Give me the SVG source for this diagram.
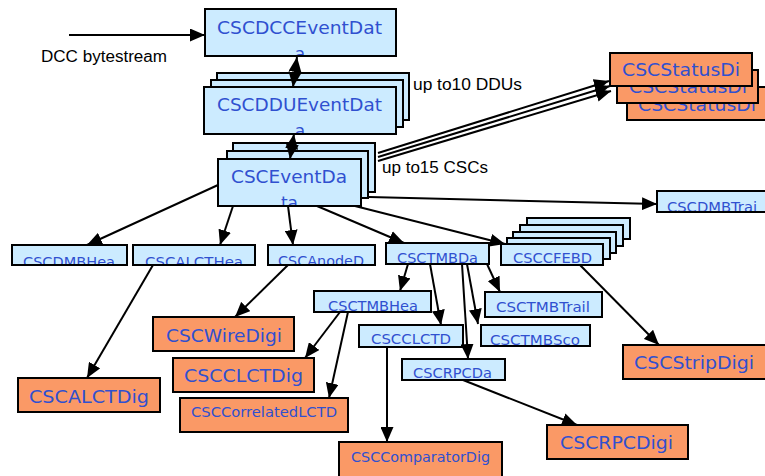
<svg xmlns="http://www.w3.org/2000/svg" width="765" height="476" viewBox="0 0 765 476">
<style>
.box{stroke:#000;stroke-width:2}
.blue{fill:#CCEBFF}
.orange{fill:#FA9966}
.lbl{font-family:"DejaVu Sans",Verdana,sans-serif;fill:#3050D0}
.big{font-size:17px}
.mid{font-size:14px}
.sm{font-size:13.5px}
.plain{font-family:"Liberation Sans",Arial,sans-serif;fill:#000;font-size:16px}
.conn{stroke:#000;stroke-width:2;fill:none}
</style>
<defs>
<marker id="ah" markerUnits="userSpaceOnUse" markerWidth="15" markerHeight="13" refX="15" refY="6.5" orient="auto-start-reverse">
<path d="M0,0 L15,6.5 L0,13 z" fill="#000"/>
</marker>
<clipPath id="cDCC"><rect x="206" y="10" width="189" height="45"/></clipPath>
<clipPath id="cDDU"><rect x="205" y="88" width="190" height="45"/></clipPath>
<clipPath id="cEvD"><rect x="219" y="160" width="141" height="45"/></clipPath>
<clipPath id="cDMBH"><rect x="13" y="246" width="113" height="18"/></clipPath>
<clipPath id="cALCTH"><rect x="134" y="246" width="120" height="18"/></clipPath>
<clipPath id="cAnode"><rect x="269" y="246" width="105" height="18"/></clipPath>
<clipPath id="cTMBDa"><rect x="387" y="244" width="101" height="19"/></clipPath>
<clipPath id="cCFEB"><rect x="502" y="245" width="100" height="19"/></clipPath>
<clipPath id="cDMBT"><rect x="658" y="192" width="108" height="19"/></clipPath>
<clipPath id="cTMBH"><rect x="315" y="292" width="115" height="19"/></clipPath>
<clipPath id="cCLCTD"><rect x="360" y="326" width="102" height="20"/></clipPath>
<clipPath id="cRPCDa"><rect x="403" y="360" width="101" height="19"/></clipPath>
<clipPath id="cTMBS"><rect x="482" y="326" width="107" height="19"/></clipPath>
</defs>

<g id="label-dcc-bytestream"><text class="plain" x="41" y="62" textLength="126" lengthAdjust="spacingAndGlyphs">DCC bytestream</text></g>
<g id="label-ddus"><text class="plain" x="413" y="90" textLength="109" lengthAdjust="spacingAndGlyphs">up to10 DDUs</text></g>
<g id="label-cscs"><text class="plain" x="382" y="173" textLength="106" lengthAdjust="spacingAndGlyphs">up to15 CSCs</text></g>

<g id="CSCDCCEventData">
<rect class="box blue" x="205" y="9" width="191" height="47"/>
<g clip-path="url(#cDCC)">
<text class="lbl big" x="217" y="34" textLength="165" lengthAdjust="spacingAndGlyphs">CSCDCCEventDat</text>
<text class="lbl big" x="300" y="60" text-anchor="middle">a</text>
</g>
</g>

<g id="CSCDDUEventData">
<rect class="box blue" x="217" y="73" width="192" height="47"/>
<rect class="box blue" x="211" y="80" width="192" height="47"/>
<rect class="box blue" x="204" y="87" width="192" height="47"/>
<g clip-path="url(#cDDU)">
<text class="lbl big" x="217" y="111" textLength="165" lengthAdjust="spacingAndGlyphs">CSCDDUEventDat</text>
<text class="lbl big" x="300" y="137" text-anchor="middle">a</text>
</g>
</g>

<g id="CSCEventData">
<rect class="box blue" x="233" y="143" width="142" height="49"/>
<rect class="box blue" x="227" y="151" width="141" height="47"/>
<rect class="box blue" x="218" y="159" width="143" height="47"/>
<g clip-path="url(#cEvD)">
<text class="lbl big" x="231" y="183" textLength="116" lengthAdjust="spacingAndGlyphs">CSCEventDa</text>
<text class="lbl big" x="289.5" y="209" text-anchor="middle">ta</text>
</g>
</g>

<g id="CSCStatusDigi">
<rect class="box orange" x="627" y="87" width="140" height="33"/>
<text class="lbl big" x="638" y="111" textLength="118" lengthAdjust="spacingAndGlyphs">CSCStatusDi</text>
<rect class="box orange" x="617" y="70" width="141" height="33"/>
<text class="lbl big" x="629" y="93" textLength="118" lengthAdjust="spacingAndGlyphs">CSCStatusDi</text>
<rect class="box orange" x="610" y="53" width="142" height="33"/>
<text class="lbl big" x="622" y="76" textLength="118" lengthAdjust="spacingAndGlyphs">CSCStatusDi</text>
</g>

<g id="CSCDMBHeader">
<rect class="box blue" x="12" y="245" width="115" height="20"/>
<text class="lbl sm" clip-path="url(#cDMBH)" x="23" y="267" textLength="92" lengthAdjust="spacingAndGlyphs">CSCDMBHea</text>
</g>
<g id="CSCALCTHeader">
<rect class="box blue" x="133" y="245" width="122" height="20"/>
<text class="lbl sm" clip-path="url(#cALCTH)" x="145" y="267" textLength="98" lengthAdjust="spacingAndGlyphs">CSCALCTHea</text>
</g>
<g id="CSCAnodeData">
<rect class="box blue" x="268" y="245" width="107" height="20"/>
<text class="lbl sm" clip-path="url(#cAnode)" x="278" y="266" textLength="86" lengthAdjust="spacingAndGlyphs">CSCAnodeD</text>
</g>
<g id="CSCTMBData">
<rect class="box blue" x="386" y="243" width="103" height="21"/>
<text class="lbl sm" clip-path="url(#cTMBDa)" x="397" y="263" textLength="81" lengthAdjust="spacingAndGlyphs">CSCTMBDa</text>
</g>
<g id="CSCCFEBData">
<rect class="box blue" x="527" y="218" width="103" height="21"/>
<rect class="box blue" x="520" y="225" width="103" height="21"/>
<rect class="box blue" x="513" y="232" width="103" height="21"/>
<rect class="box blue" x="507" y="238" width="103" height="21"/>
<rect class="box blue" x="501" y="244" width="102" height="21"/>
<text class="lbl sm" clip-path="url(#cCFEB)" x="513" y="263" textLength="79" lengthAdjust="spacingAndGlyphs">CSCCFEBD</text>
</g>
<g id="CSCDMBTrailer">
<rect class="box blue" x="657" y="191" width="110" height="21"/>
<text class="lbl sm" clip-path="url(#cDMBT)" x="667" y="212.3" textLength="90" lengthAdjust="spacingAndGlyphs">CSCDMBTrai</text>
</g>

<g id="CSCTMBHeader">
<rect class="box blue" x="314" y="291" width="117" height="21"/>
<text class="lbl sm" clip-path="url(#cTMBH)" x="328" y="311.3" textLength="90" lengthAdjust="spacingAndGlyphs">CSCTMBHea</text>
</g>
<g id="CSCCLCTData">
<rect class="box blue" x="359" y="325" width="104" height="22"/>
<text class="lbl sm" clip-path="url(#cCLCTD)" x="371" y="344.3" textLength="80" lengthAdjust="spacingAndGlyphs">CSCCLCTD</text>
</g>
<g id="CSCRPCData">
<rect class="box blue" x="402" y="359" width="103" height="21"/>
<text class="lbl sm" clip-path="url(#cRPCDa)" x="413" y="378.3" textLength="79" lengthAdjust="spacingAndGlyphs">CSCRPCDa</text>
</g>
<g id="CSCTMBScope">
<rect class="box blue" x="481" y="325" width="109" height="21"/>
<text class="lbl sm" clip-path="url(#cTMBS)" x="490" y="345.3" textLength="90" lengthAdjust="spacingAndGlyphs">CSCTMBSco</text>
</g>
<g id="CSCTMBTrailer">
<rect class="box blue" x="485" y="292" width="117" height="25"/>
<text class="lbl sm" x="496" y="312" textLength="94" lengthAdjust="spacingAndGlyphs">CSCTMBTrail</text>
</g>

<g id="CSCALCTDigi">
<rect class="box orange" x="18" y="378" width="142" height="34"/>
<text class="lbl big" x="29" y="403" textLength="120" lengthAdjust="spacingAndGlyphs">CSCALCTDig</text>
</g>
<g id="CSCWireDigi">
<rect class="box orange" x="153" y="317" width="141" height="34"/>
<text class="lbl big" x="166" y="342" textLength="116" lengthAdjust="spacingAndGlyphs">CSCWireDigi</text>
</g>
<g id="CSCCLCTDigi">
<rect class="box orange" x="173" y="358" width="141" height="34"/>
<text class="lbl big" x="184" y="382" textLength="119" lengthAdjust="spacingAndGlyphs">CSCCLCTDig</text>
</g>
<g id="CSCCorrelatedLCTDigi">
<rect class="box orange" x="180" y="398" width="168" height="34"/>
<text class="lbl mid" x="191" y="417" textLength="146" lengthAdjust="spacingAndGlyphs">CSCCorrelatedLCTD</text>
</g>
<g id="CSCComparatorDigi">
<rect class="box orange" x="339" y="442" width="163" height="36"/>
<text class="lbl mid" x="351" y="462" textLength="139" lengthAdjust="spacingAndGlyphs">CSCComparatorDig</text>
</g>
<g id="CSCStripDigi">
<rect class="box orange" x="623" y="345" width="143" height="34"/>
<text class="lbl big" x="634" y="369" textLength="120" lengthAdjust="spacingAndGlyphs">CSCStripDigi</text>
</g>
<g id="CSCRPCDigi">
<rect class="box orange" x="547" y="425" width="141" height="34"/>
<text class="lbl big" x="560" y="449" textLength="113" lengthAdjust="spacingAndGlyphs">CSCRPCDigi</text>
</g>

<g id="connectors" class="conn">
<line x1="69" y1="35" x2="205" y2="35" marker-end="url(#ah)"/>
<line x1="297" y1="57" x2="293" y2="87" marker-start="url(#ah)" marker-end="url(#ah)"/>
<line x1="294" y1="134" x2="290" y2="159" marker-start="url(#ah)" marker-end="url(#ah)"/>
<line x1="378" y1="153" x2="609" y2="81" marker-end="url(#ah)"/>
<line x1="378" y1="157" x2="610" y2="86" marker-end="url(#ah)"/>
<line x1="378" y1="161" x2="611" y2="91" marker-end="url(#ah)"/>
<line x1="218" y1="185" x2="87" y2="245" marker-end="url(#ah)"/>
<line x1="233" y1="206" x2="220" y2="245" marker-end="url(#ah)"/>
<line x1="288" y1="206" x2="293" y2="245" marker-end="url(#ah)"/>
<line x1="317" y1="206" x2="404" y2="243" marker-end="url(#ah)"/>
<line x1="355" y1="206" x2="505" y2="244" marker-end="url(#ah)"/>
<line x1="369" y1="197" x2="657" y2="204" marker-end="url(#ah)"/>
<line x1="153" y1="265" x2="87" y2="378" marker-end="url(#ah)"/>
<line x1="288" y1="265" x2="235" y2="317" marker-end="url(#ah)"/>
<line x1="408" y1="264" x2="400" y2="291" marker-end="url(#ah)"/>
<line x1="430" y1="264" x2="441" y2="325" marker-end="url(#ah)"/>
<line x1="462" y1="264" x2="468" y2="359" marker-end="url(#ah)"/>
<line x1="467" y1="264" x2="478" y2="324" marker-end="url(#ah)"/>
<line x1="487" y1="264" x2="500" y2="292" marker-end="url(#ah)"/>
<line x1="580" y1="265" x2="659" y2="345" marker-end="url(#ah)"/>
<line x1="340" y1="312" x2="305" y2="358" marker-end="url(#ah)"/>
<line x1="348" y1="312" x2="329" y2="398" marker-end="url(#ah)"/>
<line x1="387" y1="347" x2="387" y2="442" marker-end="url(#ah)"/>
<line x1="463" y1="380" x2="577" y2="425" marker-end="url(#ah)"/>
</g>
</svg>
